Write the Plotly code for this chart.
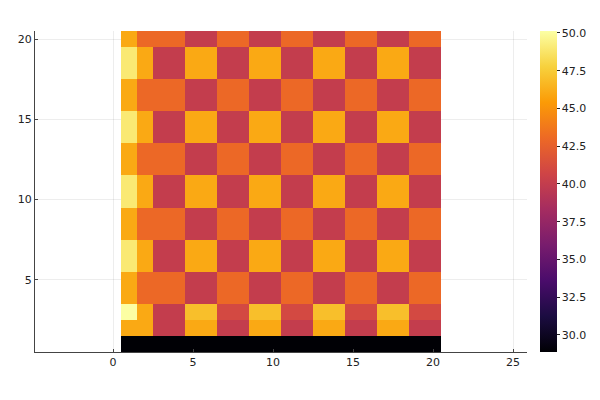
import plotly.graph_objects as go

# column / row centres of the 20x20 grid
x_cols = list(range(1, 21))
y_rows = list(range(1, 21))

# cell values, bottom row (y=1) first
row_01 = [28.9] * 20
row_02 = [46, 46, 40, 40, 46, 46, 40, 40, 46, 46, 40, 40, 46, 46, 40, 40, 46, 46, 40, 40]
row_03 = [50.1, 46, 40, 40, 47, 47, 41, 41, 47, 47, 41, 41, 47, 47, 41, 41, 47, 47, 41, 41]
row_04 = [46, 43, 43, 43, 40, 40, 43, 43, 40, 40, 43, 43, 40, 40, 43, 43, 40, 40, 43, 43]
row_05 = [46, 43, 43, 43, 40, 40, 43, 43, 40, 40, 43, 43, 40, 40, 43, 43, 40, 40, 43, 43]
row_06 = [49, 46, 40, 40, 46, 46, 40, 40, 46, 46, 40, 40, 46, 46, 40, 40, 46, 46, 40, 40]
row_07 = [49, 46, 40, 40, 46, 46, 40, 40, 46, 46, 40, 40, 46, 46, 40, 40, 46, 46, 40, 40]
row_08 = [46, 43, 43, 43, 40, 40, 43, 43, 40, 40, 43, 43, 40, 40, 43, 43, 40, 40, 43, 43]
row_09 = [46, 43, 43, 43, 40, 40, 43, 43, 40, 40, 43, 43, 40, 40, 43, 43, 40, 40, 43, 43]
row_10 = [49, 46, 40, 40, 46, 46, 40, 40, 46, 46, 40, 40, 46, 46, 40, 40, 46, 46, 40, 40]
row_11 = [49, 46, 40, 40, 46, 46, 40, 40, 46, 46, 40, 40, 46, 46, 40, 40, 46, 46, 40, 40]
row_12 = [46, 43, 43, 43, 40, 40, 43, 43, 40, 40, 43, 43, 40, 40, 43, 43, 40, 40, 43, 43]
row_13 = [46, 43, 43, 43, 40, 40, 43, 43, 40, 40, 43, 43, 40, 40, 43, 43, 40, 40, 43, 43]
row_14 = [49, 46, 40, 40, 46, 46, 40, 40, 46, 46, 40, 40, 46, 46, 40, 40, 46, 46, 40, 40]
row_15 = [49, 46, 40, 40, 46, 46, 40, 40, 46, 46, 40, 40, 46, 46, 40, 40, 46, 46, 40, 40]
row_16 = [46, 43, 43, 43, 40, 40, 43, 43, 40, 40, 43, 43, 40, 40, 43, 43, 40, 40, 43, 43]
row_17 = [46, 43, 43, 43, 40, 40, 43, 43, 40, 40, 43, 43, 40, 40, 43, 43, 40, 40, 43, 43]
row_18 = [49, 46, 40, 40, 46, 46, 40, 40, 46, 46, 40, 40, 46, 46, 40, 40, 46, 46, 40, 40]
row_19 = [49, 46, 40, 40, 46, 46, 40, 40, 46, 46, 40, 40, 46, 46, 40, 40, 46, 46, 40, 40]
row_20 = [46, 43, 43, 43, 40, 40, 43, 43, 40, 40, 43, 43, 40, 40, 43, 43, 40, 40, 43, 43]

z_vals = [row_01, row_02, row_03, row_04, row_05, row_06, row_07, row_08, row_09, row_10,
          row_11, row_12, row_13, row_14, row_15, row_16, row_17, row_18, row_19, row_20]

cbar_ticks = [30.0, 32.5, 35.0, 37.5, 40.0, 42.5, 45.0, 47.5, 50.0]
x_ticks = [0, 5, 10, 15, 20, 25]
y_ticks = [5, 10, 15, 20]

font = dict(family="DejaVu Sans", size=11, color="#222")

fig = go.Figure(
    go.Heatmap(
        x=x_cols,
        y=y_rows,
        z=z_vals,
        colorscale="Inferno",
        zmin=28.87,
        zmax=50.13,
        hoverongaps=False,
        colorbar=dict(
            x=1.026,
            xanchor="left",
            y=0.5,
            len=1.0,
            thickness=17,
            outlinewidth=0,
            tickvals=cbar_ticks,
            tickformat=".1f",
            ticks="outside",
            ticklen=3,
            tickcolor="#222",
            tickfont=font,
            xpad=0,
            ypad=0,
        ),
    )
)

axis_common = dict(
    showgrid=True,
    gridcolor="rgba(0,0,0,0.07)",
    gridwidth=1,
    zeroline=False,
    showline=True,
    linecolor="#444",
    linewidth=1,
    ticks="inside",
    ticklen=3,
    tickcolor="#444",
    tickfont=font,
    mirror=False,
    automargin=False,
)

fig.update_layout(
    width=600,
    height=400,
    margin=dict(l=35, r=73, t=31, b=48, autoexpand=False),
    paper_bgcolor="white",
    plot_bgcolor="white",
    font=font,
    xaxis=dict(range=[-4.875, 25.875], tickvals=x_ticks, **axis_common),
    yaxis=dict(range=[0.5, 20.5], tickvals=y_ticks, **axis_common),
)

# the page's default body margin would push the figure 8px right and down
fig.write_html(
    "out.html",
    config={"displayModeBar": False},
    post_script="document.body.style.margin = '0';",
)
